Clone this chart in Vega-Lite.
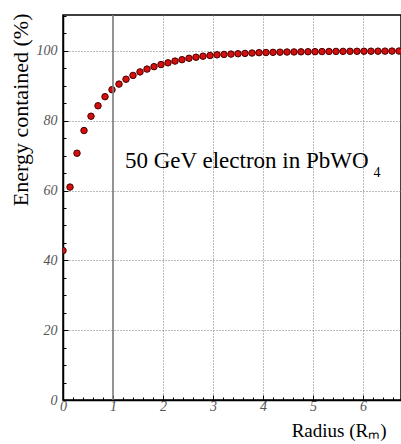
{
  "$schema": "https://vega.github.io/schema/vega-lite/v6.json",
  "autosize": "none",
  "width": 338,
  "height": 385,
  "padding": {"left": 63, "top": 15, "right": 0, "bottom": 44},
  "background": "white",
  "config": {
    "view": {"stroke": "black", "strokeWidth": 1.5},
    "font": "Liberation Serif"
  },
  "layer": [
    {
      "data": {"values": [
        {"r": 0, "e": 42.8}, {"r": 0.14, "e": 61.0}, {"r": 0.28, "e": 70.7}, {"r": 0.42, "e": 77.2},
        {"r": 0.56, "e": 81.3}, {"r": 0.7, "e": 84.3}, {"r": 0.84, "e": 86.9}, {"r": 0.98, "e": 88.9},
        {"r": 1.12, "e": 90.5}, {"r": 1.26, "e": 91.9}, {"r": 1.4, "e": 93.0}, {"r": 1.54, "e": 94.0},
        {"r": 1.68, "e": 94.8}, {"r": 1.82, "e": 95.5}, {"r": 1.96, "e": 96.1}, {"r": 2.1, "e": 96.6},
        {"r": 2.24, "e": 97.1}, {"r": 2.38, "e": 97.5}, {"r": 2.52, "e": 97.9}, {"r": 2.66, "e": 98.2},
        {"r": 2.8, "e": 98.5}, {"r": 2.94, "e": 98.7}, {"r": 3.08, "e": 98.9}, {"r": 3.22, "e": 99.0},
        {"r": 3.36, "e": 99.1}, {"r": 3.5, "e": 99.2}, {"r": 3.64, "e": 99.3}, {"r": 3.78, "e": 99.4},
        {"r": 3.92, "e": 99.5}, {"r": 4.06, "e": 99.55}, {"r": 4.2, "e": 99.6}, {"r": 4.34, "e": 99.65},
        {"r": 4.48, "e": 99.7}, {"r": 4.62, "e": 99.72}, {"r": 4.76, "e": 99.75}, {"r": 4.9, "e": 99.78},
        {"r": 5.04, "e": 99.8}, {"r": 5.18, "e": 99.82}, {"r": 5.32, "e": 99.85}, {"r": 5.46, "e": 99.87},
        {"r": 5.6, "e": 99.88}, {"r": 5.74, "e": 99.9}, {"r": 5.88, "e": 99.91}, {"r": 6.02, "e": 99.92},
        {"r": 6.16, "e": 99.93}, {"r": 6.3, "e": 99.94}, {"r": 6.44, "e": 99.95}, {"r": 6.58, "e": 99.96},
        {"r": 6.72, "e": 99.97}
      ]},
      "mark": {"type": "point", "filled": true, "fill": "#d40f0f", "stroke": "#4a0000", "strokeWidth": 1, "size": 42, "opacity": 1, "clip": true},
      "encoding": {
        "x": {
          "field": "r", "type": "quantitative",
          "scale": {"domain": [0, 6.76], "nice": false},
          "axis": {
            "title": "Radius (Rₘ)",
            "titleFont": "Liberation Serif", "titleFontSize": 19, "titleFontWeight": "normal", "titleColor": "black",
            "titleAnchor": "end", "titleAlign": "right", "titleBaseline": "alphabetic", "titleX": 323, "titleY": 36,
            "tickCount": 100,
            "values": [0,0.2,0.4,0.6,0.8,1,1.2,1.4,1.6,1.8,2,2.2,2.4,2.6,2.8,3,3.2,3.4,3.6,3.8,4,4.2,4.4,4.6,4.8,5,5.2,5.4,5.6,5.8,6,6.2,6.4,6.6],
            "labelExpr": "abs(datum.value - round(datum.value)) < 0.001 ? format(datum.value, 'd') : ''",
            "labelFont": "Liberation Serif", "labelFontStyle": "italic", "labelFontSize": 14, "labelColor": "#555",
            "labelPadding": 4, "labelFlush": false, "labelOverlap": false,
            "domainColor": "black", "domainWidth": 1.5,
            "tickColor": "black", "tickWidth": 1,
            "tickSize": {"condition": {"test": "abs(datum.value - round(datum.value)) < 0.001", "value": -5}, "value": -3},
            "grid": true, "gridColor": "#777", "gridDash": [1, 2], "gridWidth": 1,
            "gridOpacity": {"condition": {"test": "abs(datum.value - round(datum.value)) < 0.001 && datum.value > 1.5", "value": 1}, "value": 0}
          }
        },
        "y": {
          "field": "e", "type": "quantitative",
          "scale": {"domain": [0, 110.3], "nice": false},
          "axis": {
            "title": "Energy contained (%)",
            "titleFont": "Liberation Serif", "titleFontSize": 22, "titleFontWeight": "normal", "titleColor": "black",
            "titleAngle": -90, "titleAlign": "right", "titleBaseline": "alphabetic", "titleAnchor": "end",
            "titleX": -36, "titleY": -2,
            "tickCount": 100,
            "values": [0,5,10,15,20,25,30,35,40,45,50,55,60,65,70,75,80,85,90,95,100,105,110],
            "labelExpr": "datum.value % 20 === 0 ? datum.label : ''",
            "labelFont": "Liberation Serif", "labelFontStyle": "italic", "labelFontSize": 14, "labelColor": "#555",
            "labelPadding": 11, "labelFlush": false, "labelOverlap": false,
            "domainColor": "black", "domainWidth": 1.5,
            "tickColor": "black", "tickWidth": 1,
            "tickSize": {"condition": {"test": "datum.value % 20 === 0", "value": -5}, "value": -3},
            "grid": true, "gridColor": "#777", "gridDash": [1, 2], "gridWidth": 1,
            "gridOpacity": {"condition": {"test": "datum.value % 20 === 0 && datum.value > 0", "value": 1}, "value": 0}
          }
        }
      }
    },
    {
      "data": {"values": [{"r": 1}]},
      "mark": {"type": "rule", "color": "#7a7a7a", "strokeWidth": 1.6},
      "encoding": {"x": {"field": "r", "type": "quantitative"}}
    },
    {
      "data": {"values": [{"r": 1.24, "e": 66.5, "label": "50 GeV electron in PbWO"}]},
      "mark": {"type": "text", "font": "Liberation Serif", "fontSize": 23, "align": "left", "baseline": "alphabetic", "color": "black"},
      "encoding": {"x": {"field": "r", "type": "quantitative"}, "y": {"field": "e", "type": "quantitative"}, "text": {"field": "label"}}
    },
    {
      "data": {"values": [{"r": 6.21, "e": 64.0, "label": "4"}]},
      "mark": {"type": "text", "font": "Liberation Serif", "fontSize": 14, "align": "left", "baseline": "alphabetic", "color": "black"},
      "encoding": {"x": {"field": "r", "type": "quantitative"}, "y": {"field": "e", "type": "quantitative"}, "text": {"field": "label"}}
    }
  ]
}
